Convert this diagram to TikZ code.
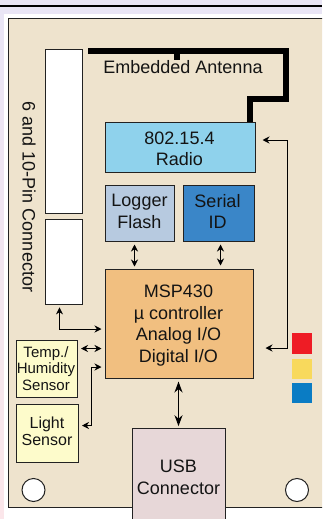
\documentclass[tikz,border=0pt]{standalone}
\usepackage{fontspec}
\setmainfont{Liberation Sans}
\usetikzlibrary{arrows.meta}
\definecolor{pagebg}{HTML}{E9E5F5}
\definecolor{pagepink}{HTML}{FBE6EA}
\definecolor{boardc}{HTML}{EEE3CD}
\definecolor{radioc}{HTML}{8FD2EC}
\definecolor{loggerc}{HTML}{B7CAE0}
\definecolor{serialc}{HTML}{3A86C8}
\definecolor{mspc}{HTML}{F1BF80}
\definecolor{sensorc}{HTML}{FDFBCB}
\definecolor{usbc}{HTML}{E7D7D8}
\definecolor{edgec}{HTML}{222222}
\definecolor{redc}{HTML}{EE1C25}
\definecolor{yellowc}{HTML}{F8D95C}
\definecolor{bluec}{HTML}{0A7CC4}
\tikzset{
  x=1pt,y=-1pt,
  block/.style={draw=edgec,line width=1pt,inner sep=0pt},
  pinbox/.style={draw=edgec,line width=0.8pt,fill=white,inner sep=0pt},
  hole/.style={circle,draw=edgec,line width=1pt,fill=white,minimum size=23pt,inner sep=0pt},
  led/.style={inner sep=0pt,minimum width=20pt},
  label/.style={inner sep=0pt,text=black!92,align=center,font=\fontsize{18}{21.5}\selectfont},
  slabel/.style={label,font=\fontsize{15}{16.6}\selectfont},
  link/.style={line width=0.9pt,draw=black,{Stealth[length=7pt,width=7pt]}-{Stealth[length=7pt,width=7pt]}},
  biglink/.style={line width=1.7pt,draw=black,{Stealth[length=11pt,width=8pt]}-{Stealth[length=11pt,width=8pt]},shorten >=2pt,shorten <=3pt},
  antenna/.style={line width=6pt,draw=black,line cap=butt,line join=miter}
}
\begin{document}
\begin{tikzpicture}
\useasboundingbox (0,0) rectangle (322,519);
\clip (0,0) rectangle (322,519);
% page
\fill[pagebg] (0,0) rectangle (322,519);
\shade[top color=pagebg,bottom color=pagepink,draw=none] (0,14) rectangle (4,519);
\fill[white] (4,14) rectangle (322,519);
\fill[black] (0,5.4) rectangle (322,6.6);
% board
\draw[fill=boardc,draw=edgec,line width=0.8pt] (8,18) rectangle (330,507);
% antenna
\draw[antenna] (88,51.5) -- (285.8,51.5) -- (285.8,98.5) -- (250,98.5) -- (250,123);
\draw[antenna] (177,51.5) -- (177,60.5);
% pin headers
\node[pinbox,minimum width=37pt,minimum height=164pt] (pinA) at (63.5,131) {};
\node[pinbox,minimum width=37pt,minimum height=85pt] (pinB) at (63.5,261.5) {};
\node[label,rotate=-90] (pinlabel) at (29,197) {6 and 10-Pin Connector};
\node[label] (antlabel) at (183,67) {Embedded Antenna};
% blocks
\node[block,fill=radioc,minimum width=150pt,minimum height=50pt] (radio) at (180,147.5) {};
\node[block,fill=loggerc,minimum width=69pt,minimum height=56pt] (logger) at (139.5,213) {};
\node[block,fill=serialc,minimum width=70.5pt,minimum height=56pt] (serial) at (218.75,213) {};
\node[block,fill=mspc,minimum width=148pt,minimum height=109pt] (msp) at (179,323.5) {};
\node[block,fill=sensorc,minimum width=61pt,minimum height=57.5pt] (temp) at (47,368.8) {};
\node[block,fill=sensorc,minimum width=62pt,minimum height=57.5pt] (light) at (47.5,433.3) {};
\node[block,fill=usbc,minimum width=92.5pt,minimum height=98.6pt] (usb) at (178.75,478) {};
% block texts
\node[label] (radiotext) at (179.5,149) {802.15.4\\Radio};
\node[label] (loggertext) at (139.5,211.5) {Logger\\Flash};
\node[label] (serialtext) at (217.5,211.5) {Serial\\ID};
\node[label] (msptext) at (178.5,325.5) {MSP430\\µ controller\\Analog I/O\\Digital I/O};
\node[slabel] (temptext) at (46,368.5) {Temp./\\Humidity\\Sensor};
\node[slabel,font=\fontsize{16}{16.6}\selectfont] (lighttext) at (47,431) {Light\\Sensor};
\node[label] (usbtext) at (178.5,477.5) {USB\\Connector};
% mounting holes
\node[hole] (holeL) at (33.5,490) {};
\node[hole] (holeR) at (297,490) {};
% LEDs
\node[led,fill=redc,minimum height=21pt] (ledR) at (302,343.5) {};
\node[led,fill=yellowc,minimum height=20pt] (ledY) at (302,369) {};
\node[led,fill=bluec,minimum height=19.5pt] (ledB) at (302,393.2) {};
% routing guides
\coordinate (gLog) at (134.5,0);
\coordinate (gSer) at (220.5,0);
\coordinate (gUsb) at (178.5,0);
\coordinate (gBus) at (287.5,0);
\coordinate (gPin) at (59.5,0);
\coordinate (gLight) at (91,0);
\coordinate (yRad) at (0,140);
\coordinate (yLed) at (0,348);
\coordinate (yPin) at (0,329);
\coordinate (yTemp) at (0,348.5);
\coordinate (yLightA) at (0,367);
\coordinate (yLightB) at (0,425.5);
% connectors
\draw[link,shorten >=2pt,shorten <=3pt] (logger.south -| gLog) -- (msp.north -| gLog);
\draw[link,shorten >=3pt,shorten <=3pt] (serial.south -| gSer) -- (msp.north -| gSer);
\draw[biglink] (msp.south -| gUsb) -- (usb.north -| gUsb);
\draw[link,shorten >=3pt,shorten <=3pt] (temp.east |- yTemp) -- (msp.west |- yTemp);
\draw[link,shorten >=3pt,shorten <=3pt] (pinB.south -| gPin) -- (gPin |- yPin) -- (msp.west |- yPin);
\draw[link,shorten >=3pt,shorten <=3pt] (light.east |- yLightB) -- (gLight |- yLightB) -- (gLight |- yLightA) -- (msp.west |- yLightA);
\draw[link,shorten >=12pt,shorten <=7pt] (radio.east |- yRad) -- (gBus |- yRad) -- (gBus |- yLed) -- (msp.east |- yLed);
\end{tikzpicture}
\end{document}
